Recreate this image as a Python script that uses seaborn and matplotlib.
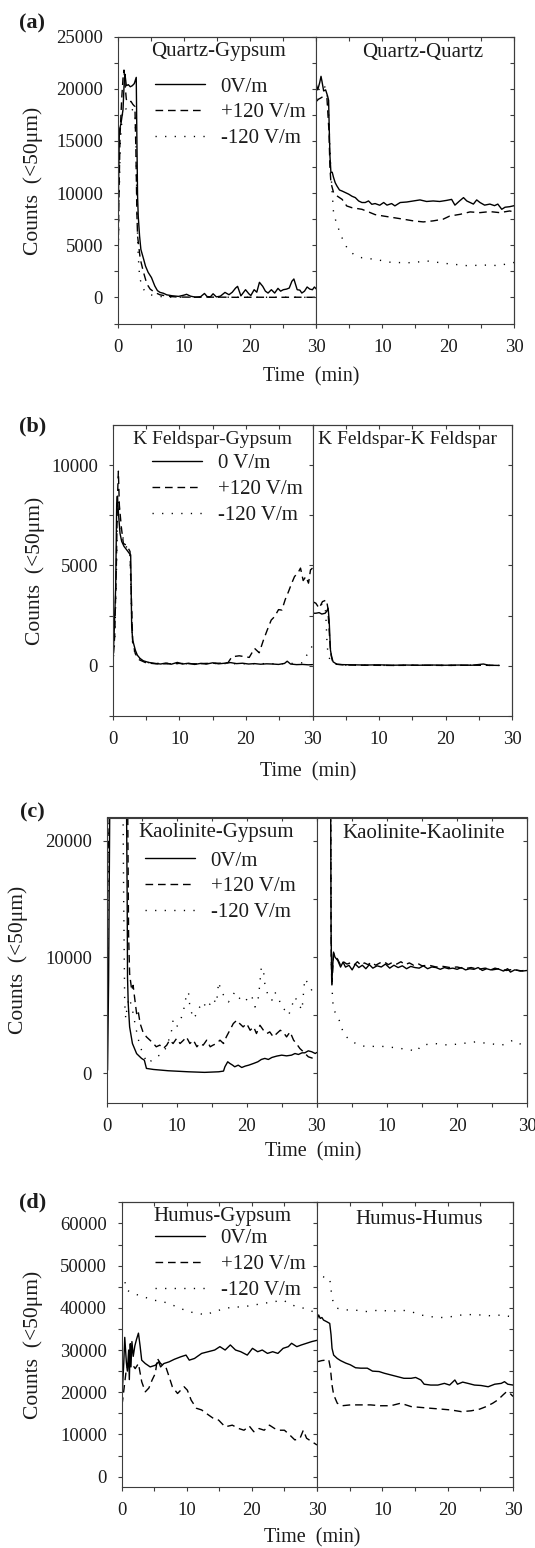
import matplotlib
matplotlib.use("Agg")
import matplotlib.pyplot as plt
from matplotlib.ticker import MultipleLocator, FixedLocator, NullFormatter, FixedFormatter
import pandas as pd
import seaborn as sns

# ------------------------------------------------------------------ data
# field strengths (style levels)
FIELDS = ["0", "+120", "-120"]

# ---- (a) Quartz-Gypsum (left) / Quartz-Quartz (right)
A_L_T0 = [0, 0.1, 0.25, 0.5, 0.8, 1.0, 1.1, 1.3, 1.6, 1.9, 2.2, 2.5, 2.8, 2.9, 3.0, 3.1, 3.3, 3.5, 3.9, 4.2,
          4.6, 5.1, 5.6, 6.0, 6.4, 6.9, 7.4, 8.2, 9.2, 10.0, 10.4, 11.0, 11.7, 12.5, 13.1, 13.5, 14.0, 14.4,
          14.9, 15.5, 16.2, 16.8, 17.3, 17.8, 18.1, 18.6, 19.3, 19.8, 20.1, 20.6, 21.0, 21.4, 21.9, 22.3,
          22.7, 23.2, 23.7, 24.2, 24.6, 25.0, 25.5, 25.9, 26.3, 26.6, 27.1, 27.5, 27.8, 28.2, 28.6, 29.0,
          29.4, 29.7, 30.0]
A_L_V0 = [0, 9000, 16000, 16700, 18000, 20900, 21400, 20300, 20400, 20200, 20300, 20500, 21100, 15000,
          9700, 7800, 5900, 4600, 3700, 3000, 2400, 1900, 1100, 650, 480, 400, 250, 160, 100, 220, 300,
          120, 30, 60, 380, 80, 60, 350, 50, 120, 480, 260, 500, 900, 1060, 150, 740, 350, 180, 740, 500,
          1450, 1060, 600, 420, 740, 420, 870, 600, 740, 800, 900, 1550, 1770, 740, 700, 420, 600, 1000,
          800, 740, 1000, 800]
A_L_TP = [0, 0.15, 0.35, 0.6, 0.8, 0.95, 1.1, 1.3, 1.6, 2.0, 2.3, 2.6, 2.75, 2.9, 3.0, 3.4, 3.9, 4.4, 4.9,
          5.6, 6.4, 7.7, 9.0, 12.0, 15.0, 18.0, 21.0, 24.0, 27.0, 30.0]
A_L_VP = [0, 8000, 15500, 19000, 21000, 21800, 20500, 19000, 18700, 18800, 18500, 18300, 14000, 8000,
          5900, 3700, 2400, 1300, 800, 480, 250, 100, 40, 20, 30, 10, 20, 10, 20, 10]
A_L_TM = [0, 0.2, 0.4, 0.7, 1.0, 1.4, 1.8, 2.2, 2.6, 2.75, 2.85, 2.95, 3.1, 3.3, 3.6, 4.0, 4.5, 5.0, 6.0,
          8.0, 12.0, 16.0, 20.0, 24.0, 28.0, 30.0]
A_L_VM = [0, 9000, 15000, 17500, 18200, 18000, 18300, 18000, 17800, 15000, 11000, 7000, 4000, 2000, 1200,
          700, 400, 250, 100, 30, 10, 20, 10, 20, 10, 10]
A_R_T0 = [0, 0.2, 0.5, 0.7, 0.85, 1.1, 1.4, 1.7, 1.85, 1.95, 2.05, 2.2, 2.4, 2.6, 2.85, 3.1, 3.5, 3.9, 4.4,
          4.9, 5.4, 5.9, 6.4, 6.9, 7.4, 7.9, 8.4, 8.9, 9.6, 10.2, 10.7, 11.4, 11.9, 12.7, 13.7, 14.7, 15.7,
          16.7, 17.7, 18.7, 19.7, 20.5, 21.0, 21.7, 22.3, 22.8, 23.3, 23.8, 24.3, 24.8, 25.5, 26.3, 27.0,
          27.5, 28.1, 28.6, 29.3, 30.0]
A_R_V0 = [20400, 19900, 20600, 21200, 20700, 19800, 19900, 19300, 18900, 16100, 13600, 12000, 12000, 11500,
          11000, 10700, 10300, 10200, 10050, 9900, 9700, 9570, 9250, 9100, 9100, 9250, 8930, 9000, 8840,
          9100, 8850, 9000, 8780, 9100, 9150, 9250, 9350, 9200, 9250, 9200, 9300, 9400, 8850, 9250, 9570,
          9250, 9100, 8950, 9350, 9100, 8850, 8950, 8800, 8950, 8450, 8650, 8700, 8800]
A_R_TP = [0, 0.3, 0.6, 1.1, 1.6, 1.9, 2.05, 2.2, 2.6, 3.2, 3.9, 4.6, 5.4, 6.9, 7.9, 8.9, 10.2, 11.7, 13.2,
          14.7, 16.2, 17.7, 19.2, 20.2, 21.8, 23.3, 24.8, 26.3, 27.8, 29.3, 30.0]
A_R_VP = [18800, 19000, 19100, 19300, 19100, 16000, 12500, 11000, 10050, 9700, 9400, 8770, 8600, 8450,
          8200, 7940, 7800, 7650, 7500, 7340, 7240, 7340, 7500, 7800, 7970, 8200, 8130, 8230, 8130, 8290,
          8200]
A_R_TM = [0, 0.5, 1.0, 1.5, 1.8, 2.0, 2.2, 2.4, 2.6, 3.1, 3.9, 4.6, 5.6, 6.9, 8.9, 11.4, 14.0, 17.0, 19.7,
          22.8, 25.8, 27.8, 29.3, 30.0]
A_R_VM = [19000, 20200, 20400, 20000, 18500, 15000, 12000, 10000, 8100, 7000, 5700, 4800, 4150, 3800,
          3650, 3350, 3330, 3480, 3250, 3050, 3100, 3050, 3300, 3350]

# ---- (b) K Feldspar-Gypsum / K Feldspar-K Feldspar
B_L_T0 = [0, 0.2, 0.45, 0.6, 0.7, 0.9, 1.1, 1.35, 1.7, 2.1, 2.5, 2.7, 2.85, 3.0, 3.4, 3.7, 4.1, 4.6, 5.4,
          6.4, 7.2, 8.0, 8.8, 9.7, 10.5, 11.4, 12.3, 13.2, 14.1, 15.0, 15.9, 16.8, 17.7, 18.6, 19.5, 20.4,
          21.3, 22.2, 23.1, 24.0, 24.9, 25.8, 26.2, 26.7, 27.6, 28.5, 29.4, 30.0]
B_L_V0 = [0, 1450, 3950, 8100, 8450, 7450, 6600, 6200, 5950, 5780, 5600, 5530, 1950, 1280, 780, 530, 370,
          250, 170, 120, 90, 140, 80, 170, 90, 130, 70, 120, 90, 150, 100, 130, 160, 110, 130, 90, 110, 80,
          100, 90, 70, 120, 230, 90, 60, 70, 50, 60]
B_L_TP = [0, 0.3, 0.55, 0.7, 0.85, 1.0, 1.3, 1.6, 2.1, 2.6, 2.8, 3.0, 3.4, 4.0, 5.0, 6.5, 8.0, 10.0, 12.0,
          14.0, 16.0, 17.3, 17.9, 19.0, 20.5, 21.3, 22.0, 22.6, 23.2, 23.8, 24.3, 24.9, 25.4, 25.9, 26.4,
          26.8, 27.3, 27.8, 28.2, 28.6, 29.0, 29.4, 29.7, 30.0]
B_L_VP = [0, 1500, 5000, 8200, 9700, 8000, 6900, 6100, 6000, 5700, 3500, 1200, 600, 300, 150, 100, 100,
          120, 100, 120, 130, 150, 450, 500, 420, 870, 650, 1250, 1780, 2280, 2450, 2800, 2780, 3300, 3700,
          4050, 4450, 4620, 4870, 4250, 4450, 4120, 4780, 4870]
B_L_TM = [0, 0.3, 0.55, 0.75, 0.95, 1.2, 1.6, 2.1, 2.6, 2.8, 3.0, 3.4, 3.8, 4.4, 5.5, 7.0, 10.0, 13.0,
          16.0, 19.0, 22.0, 25.0, 27.0, 28.5, 29.0, 29.6, 30.0]
B_L_VM = [0, 1200, 4500, 8000, 8200, 7000, 6300, 5900, 5600, 3000, 1000, 600, 450, 250, 150, 120, 110,
          100, 120, 100, 110, 100, 120, 150, 450, 800, 1000]
B_R_T0 = [0, 0.5, 1.0, 1.4, 1.9, 2.1, 2.35, 2.5, 2.7, 2.9, 3.1, 3.65, 4.5, 6.0, 8.0, 10.0, 12.0, 14.0,
          16.0, 18.0, 20.0, 22.0, 24.0, 25.7, 26.5, 28.0]
B_R_V0 = [2620, 2620, 2650, 2580, 2620, 2700, 2870, 2300, 780, 420, 200, 80, 60, 50, 40, 50, 30, 40, 30,
          40, 30, 40, 30, 90, 30, 20]
B_R_TP = [0, 0.5, 1.0, 1.5, 2.1, 2.3, 2.5, 2.65, 2.8, 3.0, 3.5, 5.0, 8.0, 12.0, 16.0, 20.0, 24.0, 28.0]
B_R_VP = [3200, 3120, 2870, 3200, 3280, 2900, 1800, 1000, 530, 250, 80, 40, 30, 20, 30, 20, 30, 20]
B_R_TM = [0, 0.5, 1.0, 1.5, 1.9, 2.05, 2.2, 2.4, 2.7, 3.2, 5.0, 8.0, 12.0, 16.0, 20.0, 24.0, 27.0, 29.0]
B_R_VM = [3000, 3000, 2950, 3100, 3000, 2200, 1000, 500, 250, 100, 40, 30, 20, 30, 20, 30, 20, 20]

# ---- (c) Kaolinite-Gypsum / Kaolinite-Kaolinite
C_L_T0 = [0, 0.15, 0.3, 0.5, 1.0, 2.0, 2.8, 2.95, 3.0, 3.1, 3.3, 3.7, 4.3, 5.0, 5.4, 5.7, 6.7, 8.8, 11.7,
          14.0, 16.0, 16.7, 16.9, 17.3, 17.6, 18.0, 18.3, 18.8, 19.3, 19.8, 20.3, 21.0, 21.6, 22.1, 22.6,
          23.1, 23.6, 24.3, 25.0, 25.7, 26.4, 26.9, 27.4, 27.9, 28.3, 28.8, 29.3, 29.8, 30.0]
C_L_V0 = [0, 300, 8000, 26000, 30000, 30000, 28000, 15000, 8300, 6000, 4000, 2570, 1700, 1290, 1140, 430,
          340, 230, 140, 90, 140, 200, 570, 1000, 860, 710, 570, 710, 510, 630, 710, 860, 1000, 1200, 1290,
          1200, 1370, 1490, 1570, 1510, 1570, 1710, 1630, 1770, 1770, 1940, 1860, 1710, 1800]
C_L_TP = [0, 0.1, 0.2, 0.35, 0.6, 1.5, 2.5, 3.0, 3.15, 3.3, 3.6, 3.8, 4.0, 4.3, 4.5, 4.8, 5.2, 5.7, 6.2,
          6.7, 7.1, 7.6, 8.1, 8.6, 9.0, 9.5, 10.0, 10.5, 11.0, 11.4, 11.9, 12.4, 12.9, 13.3, 13.8, 14.3,
          14.8, 15.2, 15.7, 16.2, 16.7, 17.1, 17.6, 18.1, 18.6, 19.0, 19.5, 20.0, 20.5, 21.0, 21.4, 21.9,
          22.4, 22.9, 23.3, 23.8, 24.3, 24.8, 25.2, 25.7, 26.2, 26.7, 27.1, 27.6, 28.1, 28.8, 29.5, 29.8]
C_L_VP = [0, 12000, 19000, 20500, 28000, 30000, 30000, 25000, 12000, 8570, 7140, 7570, 6570, 5140, 5430,
          4290, 3570, 3140, 2860, 2570, 2290, 2430, 2140, 2430, 2860, 2570, 3000, 2570, 2860, 3140, 2570,
          2860, 2290, 2570, 2430, 2860, 2290, 2430, 2570, 2860, 2570, 3140, 3710, 4290, 4570, 4290, 4000,
          4290, 3710, 4000, 3430, 4140, 3710, 3430, 3570, 3140, 3430, 3710, 3570, 3140, 3570, 2860, 2570,
          2140, 1860, 1430, 1290, 1000]
C_L_TM = [0, 0.1, 0.3, 0.6, 1.5, 2.3, 2.45, 2.6, 2.75, 2.9, 3.2, 3.6, 4.0, 4.5, 5.0, 5.5, 6.0, 6.7, 7.1,
          7.6, 8.1, 8.6, 9.3, 9.5, 10.0, 10.5, 11.0, 11.4, 11.7, 11.9, 12.4, 12.9, 13.3, 13.8, 14.3, 14.8,
          15.2, 15.7, 16.0, 16.4, 16.9, 17.4, 17.9, 18.3, 18.8, 19.3, 19.8, 20.2, 20.7, 21.2, 21.7, 22.1,
          22.4, 22.6, 23.1, 23.6, 24.0, 24.5, 25.0, 25.5, 26.0, 26.4, 26.9, 27.4, 27.9, 28.3, 28.8, 29.3,
          29.8]
C_L_VM = [0, 5000, 20000, 28000, 30000, 28000, 15000, 6000, 4700, 5500, 6500, 5800, 4500, 3000, 2000, 1290,
          860, 1290, 1430, 1570, 1860, 2290, 3710, 4570, 4000, 4430, 5430, 6710, 7000, 5710, 4710, 5140,
          5710, 6140, 5570, 6000, 6430, 6000, 7860, 7000, 6570, 6140, 6570, 7000, 6570, 6290, 6140, 6570,
          6710, 5710, 6570, 9140, 8860, 7710, 6570, 6290, 7000, 6570, 5710, 5430, 5000, 5710, 6570, 6000,
          5430, 8140, 7710, 7140, 6570]
C_R_T0 = [1.95, 2.05, 2.15, 2.4, 2.6, 3.0, 3.4, 3.75, 4.1, 4.6, 5.05, 5.5, 6.0, 6.5, 7.0, 7.5, 8.0, 8.6, 9.2,
          9.8, 10.4, 11.0, 11.6, 12.2, 12.8, 13.4, 14.0, 14.6, 15.2, 15.8, 16.4, 17.0, 17.6, 18.2, 18.8,
          19.4, 20.0, 20.6, 21.2, 21.8, 22.4, 23.0, 23.6, 24.2, 24.8, 25.4, 26.0, 26.6, 27.2, 27.6, 28.2,
          28.8, 29.3, 30.0]
C_R_V0 = [30000, 12000, 7800, 10430, 10000, 9710, 9140, 9570, 9140, 9290, 8900, 9400, 9100, 9300, 9000,
          9350, 9050, 9250, 9150, 9400, 9050, 9300, 9100, 9250, 9000, 9200, 9100, 9050, 9250, 9000, 9150,
          9100, 8950, 9100, 9000, 9050, 8950, 9100, 8900, 9000, 8950, 9100, 8850, 9000, 8900, 9050, 8950,
          8800, 9000, 8710, 8900, 8850, 8800, 8850]
C_R_TP = [1.95, 2.05, 2.15, 2.4, 2.6, 3.0, 3.4, 3.8, 4.3, 4.8, 5.3, 5.8, 6.3, 6.8, 7.3, 7.8, 8.4, 9.0, 9.6,
          10.2, 10.8, 11.4, 12.0, 12.6, 13.2, 13.8, 14.4, 15.0, 16.0, 17.0, 18.0, 19.0, 20.0, 21.0, 22.0,
          23.0, 24.0, 25.0, 26.0, 27.0, 28.0, 29.0, 30.0]
C_R_VP = [30000, 11000, 7500, 10300, 10100, 9800, 9300, 9600, 9400, 9500, 9300, 9600, 9300, 9500, 9350,
          9550, 9300, 9500, 9600, 9350, 9550, 9400, 9600, 9350, 9500, 9300, 9450, 9250, 9300, 9150, 9200,
          9100, 9150, 9000, 9100, 8950, 9050, 8900, 9000, 8850, 8950, 8800, 8900]
C_R_TM = [1.95, 2.1, 2.25, 2.4, 2.8, 3.4, 3.8, 4.7, 6.0, 7.2, 8.7, 10.1, 12.0, 13.5, 14.2, 14.9, 16.8, 18.8,
          20.7, 22.6, 24.5, 26.4, 28.0, 29.3, 30.0]
C_R_VM = [30000, 9000, 6500, 5430, 5140, 4290, 3430, 2860, 2430, 2290, 2350, 2290, 2140, 2000, 1860, 2430,
          2570, 2430, 2570, 2710, 2570, 2430, 2860, 2430, 2290]

# ---- (d) Humus-Gypsum / Humus-Humus
D_L_T0 = [0, 0.15, 0.35, 0.5, 0.75, 0.9, 1.1, 1.2, 1.35, 1.45, 1.6, 1.8, 2.05, 2.3, 2.6, 2.85, 3.1, 3.65,
          4.4, 5.2, 5.7, 6.0, 6.5, 7.3, 8.1, 9.1, 9.9, 10.4, 11.2, 12.3, 13.3, 14.3, 15.1, 15.9, 16.7, 17.5,
          18.3, 19.3, 20.1, 20.9, 21.6, 22.4, 23.2, 24.0, 24.8, 25.6, 26.1, 26.9, 27.6, 28.4, 29.2, 30.0]
D_L_V0 = [17000, 21000, 27000, 33000, 27000, 25000, 30000, 23000, 31500, 26000, 32000, 28500, 31000, 32500,
          34000, 31000, 27600, 26800, 26000, 26400, 27200, 26000, 26800, 27200, 27800, 28400, 28800, 27600,
          28000, 29200, 29600, 30000, 30800, 30000, 31200, 30000, 29600, 28800, 30400, 29600, 30000, 29200,
          29600, 29200, 30400, 30800, 31600, 30800, 31200, 31600, 32000, 32300]
D_L_TP = [0, 0.15, 0.4, 0.7, 1.0, 1.3, 1.7, 2.1, 2.6, 3.1, 3.65, 4.2, 4.7, 5.2, 5.5, 6.0, 6.8, 7.3, 7.8,
          8.6, 9.6, 10.1, 10.7, 11.5, 12.3, 13.0, 14.1, 14.9, 15.9, 17.0, 18.0, 18.8, 19.6, 20.3, 21.1,
          21.9, 22.7, 23.5, 24.3, 25.0, 25.8, 26.6, 27.4, 27.9, 28.4, 29.2, 30.0]
D_L_VP = [17000, 17800, 21000, 24900, 26500, 27200, 26500, 25600, 26800, 22500, 20100, 21000, 22900, 24500,
          28000, 26800, 26000, 23700, 21300, 19700, 21300, 20500, 18100, 16200, 15800, 15000, 13800, 13400,
          11800, 12200, 11400, 11000, 12000, 10650, 11400, 11000, 12200, 11400, 11000, 11000, 9900, 8700,
          9100, 11000, 9100, 8300, 7500]
D_L_TM = [0, 0.3, 0.8, 1.8, 3.4, 5.0, 6.5, 8.6, 10.2, 11.7, 13.0, 14.1, 15.4, 17.0, 18.5, 20.1, 21.6, 23.2,
          24.8, 25.8, 26.9, 28.4, 29.9]
D_L_VM = [48100, 47700, 44200, 43400, 42600, 41800, 41400, 40200, 39100, 38700, 38300, 39100, 39600, 40200,
          40200, 40600, 41000, 41400, 41800, 41000, 40200, 39800, 38700]
D_R_T0 = [0, 0.25, 0.5, 0.75, 1.0, 1.5, 1.95, 2.15, 2.3, 2.55, 3.1, 3.6, 4.4, 5.1, 5.9, 6.7, 7.7, 8.5, 9.5,
          10.3, 11.3, 12.3, 13.3, 14.4, 15.1, 15.9, 16.4, 17.4, 18.5, 19.5, 20.3, 21.1, 21.5, 22.3, 23.1,
          24.1, 25.1, 26.2, 27.2, 28.2, 28.7, 29.2, 30.0]
D_R_V0 = [37100, 38300, 37500, 37700, 37100, 36700, 36300, 33600, 30400, 28800, 28000, 27500, 26900, 26500,
          25800, 25700, 25700, 25000, 24900, 24500, 24100, 23700, 23300, 23300, 23500, 22900, 21900, 21700,
          21700, 22100, 21700, 22900, 21900, 22400, 22100, 21700, 21600, 21300, 21900, 22100, 22500, 21900,
          21700]
D_R_TP = [0, 0.25, 0.75, 1.8, 2.05, 2.3, 2.55, 3.1, 3.85, 5.1, 6.7, 8.2, 9.7, 11.3, 12.8, 14.4, 15.9, 17.4,
          19.0, 20.5, 22.1, 23.6, 24.9, 25.9, 26.9, 27.7, 28.5, 29.0, 29.5, 30.0]
D_R_VP = [27300, 27300, 27500, 27700, 25700, 21700, 19400, 17400, 16800, 17000, 17000, 17000, 16800, 16800,
          17400, 16600, 16400, 16200, 16000, 15800, 15400, 15600, 16000, 16600, 17400, 18200, 19400, 20100,
          19800, 19000]
D_R_TM = [0, 0.25, 0.75, 1.95, 2.15, 2.45, 3.1, 4.1, 5.6, 7.7, 9.7, 11.3, 12.8, 14.4, 15.9, 17.4, 19.0, 20.5,
          22.1, 23.6, 25.1, 26.7, 28.2, 29.7, 30.0]
D_R_VM = [49000, 48200, 47400, 47000, 44200, 41500, 39900, 39500, 39500, 39100, 39500, 39100, 39500, 39100,
          38300, 37900, 37700, 37900, 38300, 38400, 38300, 38100, 38300, 37900, 37500]

# text
X_TICKS = [0, 10, 20, 30]
X_TICKLABELS_LEFT = ["0", "10", "20", "30"]
X_TICKLABELS_RIGHT = ["", "10", "20", "30"]
X_LABEL = "Time  (min)"
Y_LABEL = "Counts  (<50\u03bcm)"
LEG_A = ["0V/m", "+120 V/m", "-120 V/m"]
LEG_B = ["0 V/m", "+120 V/m", "-120 V/m"]
LEG_C = ["0V/m", "+120 V/m", "-120 V/m"]
LEG_D = ["0V/m", "+120 V/m", "-120 V/m"]
TITLES_A = ["Quartz-Gypsum", "Quartz-Quartz"]
TITLES_B = ["K Feldspar-Gypsum", "K Feldspar-K Feldspar"]
TITLES_C = ["Kaolinite-Gypsum", "Kaolinite-Kaolinite"]
TITLES_D = ["Humus-Gypsum", "Humus-Humus"]

# ------------------------------------------------------------------ style
W, H = 535, 1548
sns.set_style("ticks")
plt.rcParams["font.family"] = ["Liberation Serif", "DejaVu Serif"]
INK = "#1c1c1c"
SPINE = "#3c3c3c"
plt.rcParams["axes.edgecolor"] = SPINE
plt.rcParams["axes.linewidth"] = 0.8
DASHES = {"0": "", "+120": (5.5, 3.5), "-120": (0.9, 6.0)}

fig = plt.figure(figsize=(W / 100, H / 100), dpi=100)


def fx(x):
    return x / W


def fy(y):
    return 1 - y / H


def series_frame(series):
    frames = [pd.DataFrame({"t": t, "counts": v, "field": f}) for f, (t, v) in zip(FIELDS, series)]
    return pd.concat(frames, ignore_index=True)


PANELS = [
    dict(letter="(a)", box=(117.7, 316.4, 514.3, 36.7, 323.5), ylim=(-2500, 25000), major=5000, minor=2500,
         left=[(A_L_T0, A_L_V0), (A_L_TP, A_L_VP), (A_L_TM, A_L_VM)],
         right=[(A_R_T0, A_R_V0), (A_R_TP, A_R_VP), (A_R_TM, A_R_VM)],
         labels=LEG_A, titles=TITLES_A, title_size=15, title_xy=[(218.4, 51.7), (423, 53)],
         legend_xy=(155, 85), ylabel_xy=(33, 181), xlabel_xy=(311.3, 377), letter_xy=(32.5, 23.5)),
    dict(letter="(b)", box=(112.7, 312.5, 512, 425, 716), ylim=(-2500, 12000), major=5000, minor=2500,
         left=[(B_L_T0, B_L_V0), (B_L_TP, B_L_VP), (B_L_TM, B_L_VM)],
         right=[(B_R_T0, B_R_V0), (B_R_TP, B_R_VP), (B_R_TM, B_R_VM)],
         labels=LEG_B, titles=TITLES_B, title_size=14, title_xy=[(212.4, 440), (408, 440)],
         legend_xy=(152, 461.7), ylabel_xy=(35, 571), xlabel_xy=(308, 771.7), letter_xy=(33, 426)),
    dict(letter="(c)", box=(106.5, 316.7, 527.3, 817.5, 1102.5), ylim=(-2500, 22000), major=10000, minor=5000,
         left=[(C_L_T0, C_L_V0), (C_L_TP, C_L_VP), (C_L_TM, C_L_VM)],
         right=[(C_R_T0, C_R_V0), (C_R_TP, C_R_VP), (C_R_TM, C_R_VM)],
         labels=LEG_C, titles=TITLES_C, title_size=15, title_xy=[(215.8, 833), (424, 833)],
         legend_xy=(145, 859), ylabel_xy=(18.5, 960), xlabel_xy=(313, 1151.7), letter_xy=(32.5, 812)),
    dict(letter="(d)", box=(121.5, 317, 513, 1202.3, 1487.2), ylim=(-2500, 65000), major=10000, minor=5000,
         left=[(D_L_T0, D_L_V0), (D_L_TP, D_L_VP), (D_L_TM, D_L_VM)],
         right=[(D_R_T0, D_R_V0), (D_R_TP, D_R_VP), (D_R_TM, D_R_VM)],
         labels=LEG_D, titles=TITLES_D, title_size=15, title_xy=[(222.6, 1216.7), (418.8, 1220)],
         legend_xy=(155, 1236.7), ylabel_xy=(33, 1345), xlabel_xy=(312.3, 1538.3), letter_xy=(33, 1202.5)),
]

TICK_KW = dict(length=3, width=0.8, color=SPINE, labelsize=13.5, labelcolor=INK)

for p in PANELS:
    L, D, R, T, B = p["box"]
    axl = fig.add_axes([fx(L), fy(B), fx(D) - fx(L), fy(T) - fy(B)])
    axr = fig.add_axes([fx(D), fy(B), fx(R) - fx(D), fy(T) - fy(B)])
    for ax, series, is_left in ((axl, p["left"], True), (axr, p["right"], False)):
        df = series_frame(series)
        sns.lineplot(data=df, x="t", y="counts", style="field", style_order=FIELDS, dashes=DASHES,
                     color="black", linewidth=1.0, estimator=None, sort=False, legend=is_left, ax=ax)
        ax.set_xlim(0, 30)
        ax.set_ylim(*p["ylim"])
        ax.set_xlabel("")
        ax.set_ylabel("")
        # x ticks (bottom outward)
        ax.xaxis.set_major_locator(FixedLocator(X_TICKS))
        ax.xaxis.set_minor_locator(FixedLocator([5, 15, 25]))
        ax.xaxis.set_major_formatter(FixedFormatter(X_TICKLABELS_LEFT if is_left else X_TICKLABELS_RIGHT))
        ax.tick_params(axis="x", which="both", bottom=True, top=False, direction="out", pad=8, **TICK_KW)
        # y ticks (left outward)
        ax.yaxis.set_major_locator(MultipleLocator(p["major"]))
        ax.yaxis.set_minor_locator(MultipleLocator(p["minor"]))
        ax.tick_params(axis="y", which="both", left=True, right=False, direction="out", pad=7.5,
                       labelleft=is_left, **TICK_KW)
        # top ticks inward
        sx = ax.secondary_xaxis("top")
        sx.xaxis.set_major_locator(FixedLocator(X_TICKS))
        sx.xaxis.set_minor_locator(FixedLocator([5, 15, 25]))
        sx.xaxis.set_major_formatter(NullFormatter())
        sx.tick_params(which="both", direction="in", length=3, width=0.8, color=SPINE)
        for s in sx.spines.values():
            s.set_color(SPINE)
            s.set_linewidth(0.8)
        for s in ax.spines.values():
            s.set_color(SPINE)
            s.set_linewidth(0.8)
        if not is_left:
            sy = ax.secondary_yaxis("right")
            sy.yaxis.set_major_locator(MultipleLocator(p["major"]))
            sy.yaxis.set_minor_locator(MultipleLocator(p["minor"]))
            sy.yaxis.set_major_formatter(NullFormatter())
            sy.tick_params(which="both", direction="in", length=3, width=0.8, color=SPINE)
            for s in sy.spines.values():
                s.set_color(SPINE)
                s.set_linewidth(0.8)

    # axis labels
    axl.set_ylabel(Y_LABEL, fontsize=15.5, color=INK)
    axl.yaxis.label.set_verticalalignment("center")
    axl.yaxis.set_label_coords(fx(p["ylabel_xy"][0]), fy(p["ylabel_xy"][1]), transform=fig.transFigure)
    axl.set_xlabel(X_LABEL, fontsize=14.5, color=INK)
    axl.xaxis.label.set_verticalalignment("center")
    axl.xaxis.set_label_coords(fx(p["xlabel_xy"][0]), fy(p["xlabel_xy"][1]), transform=fig.transFigure)

    # titles inside the two halves
    for txt, (tx, ty) in zip(p["titles"], p["title_xy"]):
        fig.text(fx(tx), fy(ty), txt, ha="center", va="center", fontsize=p["title_size"], color=INK)
    # panel letter
    lx, ly = p["letter_xy"]
    fig.text(fx(lx), fy(ly), p["letter"], ha="center", va="center", fontsize=16, fontweight="bold", color=INK)

    # legend
    gx, gy = p["legend_xy"]
    sns.move_legend(axl, loc="upper left", bbox_to_anchor=(fx(gx), fy(gy - 8)),
                    bbox_transform=fig.transFigure, labels=p["labels"], title=None, frameon=False,
                    fontsize=15, handlelength=2.4, handletextpad=0.75, labelspacing=0.3,
                    borderpad=0, borderaxespad=0)
    for t in axl.get_legend().get_texts():
        t.set_color(INK)

fig.savefig("out.png", dpi=100)
